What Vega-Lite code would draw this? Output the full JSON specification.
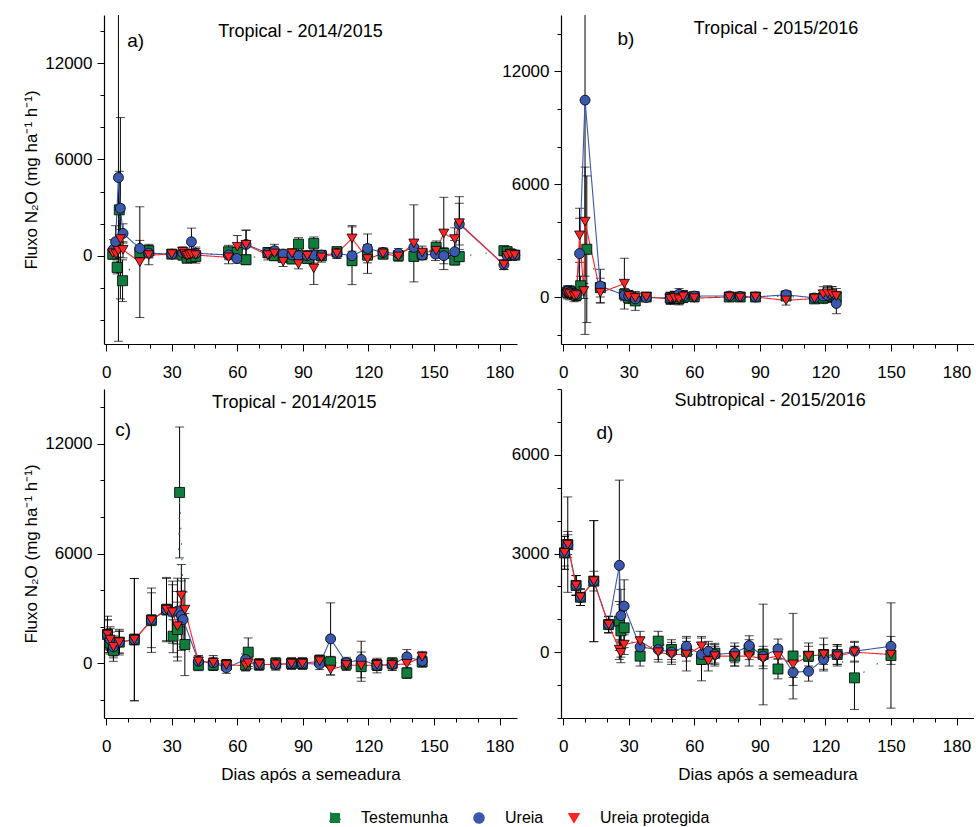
{
"$schema": "https://vega.github.io/schema/vega-lite/v6.json",
"padding": {"left": 22, "top": 15, "right": 0, "bottom": 5},
"bounds": "flush",
"spacing": {"row": 45, "column": 44},
"columns": 2,
"resolve": {"legend": {"color": "shared", "shape": "shared"}, "scale": {"color": "shared", "shape": "shared", "strokeDash": "shared"}},
"datasets": {
"pts": [
{"p":"a","t":"Ureia","d":3.3,"v":400,"e":600},{"p":"a","t":"Ureia","d":4.3,"v":870,"e":1000},{"p":"a","t":"Ureia","d":5.6,"v":4870,"e":10200},{"p":"a","t":"Ureia","d":6.5,"v":2960,"e":5650},{"p":"a","t":"Ureia","d":7.7,"v":1390,"e":600},{"p":"a","t":"Ureia","d":15.4,"v":456,"e":500},{"p":"a","t":"Ureia","d":19.5,"v":165,"e":300},{"p":"a","t":"Ureia","d":30,"v":100,"e":200},{"p":"a","t":"Ureia","d":35,"v":200,"e":300},{"p":"a","t":"Ureia","d":37,"v":100,"e":300},{"p":"a","t":"Ureia","d":39,"v":870,"e":850},{"p":"a","t":"Ureia","d":41,"v":150,"e":300},{"p":"a","t":"Ureia","d":56,"v":50,"e":300},{"p":"a","t":"Ureia","d":59.8,"v":-170,"e":300},{"p":"a","t":"Ureia","d":64,"v":700,"e":900},{"p":"a","t":"Ureia","d":74,"v":165,"e":300},{"p":"a","t":"Ureia","d":77,"v":310,"e":400},{"p":"a","t":"Ureia","d":81,"v":100,"e":300},{"p":"a","t":"Ureia","d":85,"v":50,"e":300},{"p":"a","t":"Ureia","d":88,"v":0,"e":300},{"p":"a","t":"Ureia","d":92,"v":0,"e":300},{"p":"a","t":"Ureia","d":95,"v":40,"e":500},{"p":"a","t":"Ureia","d":98.5,"v":40,"e":300},{"p":"a","t":"Ureia","d":105.6,"v":145,"e":300},{"p":"a","t":"Ureia","d":112.5,"v":0,"e":1800},{"p":"a","t":"Ureia","d":119.6,"v":456,"e":900},{"p":"a","t":"Ureia","d":126.7,"v":200,"e":300},{"p":"a","t":"Ureia","d":133.7,"v":145,"e":300},{"p":"a","t":"Ureia","d":140.8,"v":520,"e":400},{"p":"a","t":"Ureia","d":144.6,"v":40,"e":300},{"p":"a","t":"Ureia","d":150.7,"v":100,"e":400},{"p":"a","t":"Ureia","d":154.5,"v":0,"e":500},{"p":"a","t":"Ureia","d":159.5,"v":250,"e":700},{"p":"a","t":"Ureia","d":161.6,"v":1970,"e":1300},{"p":"a","t":"Ureia","d":182,"v":-560,"e":300},{"p":"a","t":"Ureia","d":183.5,"v":0,"e":300},{"p":"a","t":"Ureia","d":185,"v":100,"e":300},{"p":"a","t":"Ureia","d":187,"v":40,"e":300},
{"p":"a","t":"Ureia protegida","d":3,"v":165,"e":300},{"p":"a","t":"Ureia protegida","d":4.5,"v":100,"e":300},{"p":"a","t":"Ureia protegida","d":5.5,"v":310,"e":400},{"p":"a","t":"Ureia protegida","d":6.5,"v":1040,"e":600},{"p":"a","t":"Ureia protegida","d":7.7,"v":370,"e":500},{"p":"a","t":"Ureia protegida","d":15.4,"v":-400,"e":3450},{"p":"a","t":"Ureia protegida","d":19.5,"v":40,"e":600},{"p":"a","t":"Ureia protegida","d":30,"v":100,"e":200},{"p":"a","t":"Ureia protegida","d":35,"v":250,"e":300},{"p":"a","t":"Ureia protegida","d":36,"v":100,"e":300},{"p":"a","t":"Ureia protegida","d":37,"v":0,"e":300},{"p":"a","t":"Ureia protegida","d":38,"v":50,"e":300},{"p":"a","t":"Ureia protegida","d":39,"v":100,"e":300},{"p":"a","t":"Ureia protegida","d":41,"v":40,"e":500},{"p":"a","t":"Ureia protegida","d":56,"v":-100,"e":400},{"p":"a","t":"Ureia protegida","d":60,"v":560,"e":700},{"p":"a","t":"Ureia protegida","d":64,"v":685,"e":900},{"p":"a","t":"Ureia protegida","d":74,"v":40,"e":300},{"p":"a","t":"Ureia protegida","d":77,"v":145,"e":400},{"p":"a","t":"Ureia protegida","d":81,"v":-370,"e":300},{"p":"a","t":"Ureia protegida","d":85,"v":145,"e":300},{"p":"a","t":"Ureia protegida","d":88,"v":-520,"e":300},{"p":"a","t":"Ureia protegida","d":92,"v":0,"e":300},{"p":"a","t":"Ureia protegida","d":95,"v":-790,"e":1000},{"p":"a","t":"Ureia protegida","d":98.5,"v":-100,"e":300},{"p":"a","t":"Ureia protegida","d":105.6,"v":145,"e":300},{"p":"a","t":"Ureia protegida","d":112.5,"v":1080,"e":800},{"p":"a","t":"Ureia protegida","d":119.6,"v":-200,"e":900},{"p":"a","t":"Ureia protegida","d":126.7,"v":145,"e":300},{"p":"a","t":"Ureia protegida","d":133.7,"v":-40,"e":300},{"p":"a","t":"Ureia protegida","d":140.8,"v":770,"e":2400},{"p":"a","t":"Ureia protegida","d":144.6,"v":200,"e":400},{"p":"a","t":"Ureia protegida","d":151,"v":310,"e":400},{"p":"a","t":"Ureia protegida","d":154.5,"v":1390,"e":2250},{"p":"a","t":"Ureia protegida","d":159.5,"v":1040,"e":700},{"p":"a","t":"Ureia protegida","d":161.6,"v":2030,"e":1650},{"p":"a","t":"Ureia protegida","d":182,"v":-560,"e":300},{"p":"a","t":"Ureia protegida","d":183.5,"v":0,"e":300},{"p":"a","t":"Ureia protegida","d":185,"v":100,"e":300},{"p":"a","t":"Ureia protegida","d":187,"v":40,"e":300},
{"p":"a","t":"Testemunha","d":3,"v":100,"e":300},{"p":"a","t":"Testemunha","d":5,"v":-730,"e":400},{"p":"a","t":"Testemunha","d":6,"v":2860,"e":2400},{"p":"a","t":"Testemunha","d":7.5,"v":-1555,"e":1300},{"p":"a","t":"Testemunha","d":15.4,"v":200,"e":400},{"p":"a","t":"Testemunha","d":19.5,"v":310,"e":400},{"p":"a","t":"Testemunha","d":30,"v":100,"e":200},{"p":"a","t":"Testemunha","d":35,"v":40,"e":300},{"p":"a","t":"Testemunha","d":37,"v":-150,"e":300},{"p":"a","t":"Testemunha","d":39,"v":-100,"e":300},{"p":"a","t":"Testemunha","d":41,"v":-40,"e":300},{"p":"a","t":"Testemunha","d":56,"v":250,"e":400},{"p":"a","t":"Testemunha","d":60,"v":200,"e":300},{"p":"a","t":"Testemunha","d":64,"v":-250,"e":300},{"p":"a","t":"Testemunha","d":74,"v":200,"e":300},{"p":"a","t":"Testemunha","d":77,"v":0,"e":300},{"p":"a","t":"Testemunha","d":81,"v":-100,"e":300},{"p":"a","t":"Testemunha","d":85,"v":-200,"e":300},{"p":"a","t":"Testemunha","d":88,"v":725,"e":400},{"p":"a","t":"Testemunha","d":92,"v":-165,"e":300},{"p":"a","t":"Testemunha","d":95,"v":770,"e":400},{"p":"a","t":"Testemunha","d":98.5,"v":0,"e":300},{"p":"a","t":"Testemunha","d":105.6,"v":250,"e":300},{"p":"a","t":"Testemunha","d":112.5,"v":-310,"e":300},{"p":"a","t":"Testemunha","d":119.6,"v":40,"e":300},{"p":"a","t":"Testemunha","d":126.7,"v":100,"e":300},{"p":"a","t":"Testemunha","d":133.7,"v":0,"e":300},{"p":"a","t":"Testemunha","d":140.8,"v":-40,"e":300},{"p":"a","t":"Testemunha","d":144.6,"v":100,"e":300},{"p":"a","t":"Testemunha","d":151,"v":520,"e":400},{"p":"a","t":"Testemunha","d":154.5,"v":145,"e":300},{"p":"a","t":"Testemunha","d":159.5,"v":-270,"e":300},{"p":"a","t":"Testemunha","d":161.6,"v":-60,"e":300},{"p":"a","t":"Testemunha","d":182,"v":310,"e":300},{"p":"a","t":"Testemunha","d":183.5,"v":250,"e":300},{"p":"a","t":"Testemunha","d":185,"v":100,"e":300},{"p":"a","t":"Testemunha","d":187,"v":40,"e":300},
{"p":"b","t":"Ureia","d":2,"v":300,"e":300},{"p":"b","t":"Ureia","d":3,"v":250,"e":300},{"p":"b","t":"Ureia","d":5,"v":200,"e":300},{"p":"b","t":"Ureia","d":6,"v":150,"e":300},{"p":"b","t":"Ureia","d":7.5,"v":2310,"e":1880},{"p":"b","t":"Ureia","d":10,"v":10470,"e":12460},{"p":"b","t":"Ureia","d":17,"v":585,"e":890},{"p":"b","t":"Ureia","d":28,"v":100,"e":300},{"p":"b","t":"Ureia","d":30,"v":50,"e":300},{"p":"b","t":"Ureia","d":33,"v":-100,"e":300},{"p":"b","t":"Ureia","d":38,"v":-30,"e":200},{"p":"b","t":"Ureia","d":49,"v":-50,"e":300},{"p":"b","t":"Ureia","d":51,"v":0,"e":300},{"p":"b","t":"Ureia","d":53,"v":150,"e":300},{"p":"b","t":"Ureia","d":55,"v":50,"e":300},{"p":"b","t":"Ureia","d":60,"v":50,"e":200},{"p":"b","t":"Ureia","d":76,"v":50,"e":200},{"p":"b","t":"Ureia","d":81,"v":30,"e":200},{"p":"b","t":"Ureia","d":88,"v":0,"e":200},{"p":"b","t":"Ureia","d":102,"v":120,"e":200},{"p":"b","t":"Ureia","d":115,"v":-50,"e":200},{"p":"b","t":"Ureia","d":119,"v":50,"e":300},{"p":"b","t":"Ureia","d":121,"v":100,"e":400},{"p":"b","t":"Ureia","d":123,"v":150,"e":400},{"p":"b","t":"Ureia","d":125,"v":-340,"e":550},
{"p":"b","t":"Ureia protegida","d":2,"v":200,"e":300},{"p":"b","t":"Ureia protegida","d":3,"v":150,"e":300},{"p":"b","t":"Ureia protegida","d":5,"v":50,"e":300},{"p":"b","t":"Ureia protegida","d":6,"v":100,"e":300},{"p":"b","t":"Ureia protegida","d":7.5,"v":3280,"e":1440},{"p":"b","t":"Ureia protegida","d":9.4,"v":320,"e":400},{"p":"b","t":"Ureia protegida","d":10,"v":4010,"e":2900},{"p":"b","t":"Ureia protegida","d":17,"v":230,"e":550},{"p":"b","t":"Ureia protegida","d":28,"v":710,"e":1350},{"p":"b","t":"Ureia protegida","d":30,"v":50,"e":300},{"p":"b","t":"Ureia protegida","d":33,"v":-50,"e":300},{"p":"b","t":"Ureia protegida","d":38,"v":0,"e":200},{"p":"b","t":"Ureia protegida","d":49,"v":-100,"e":300},{"p":"b","t":"Ureia protegida","d":51,"v":-50,"e":300},{"p":"b","t":"Ureia protegida","d":53,"v":-120,"e":300},{"p":"b","t":"Ureia protegida","d":55,"v":30,"e":300},{"p":"b","t":"Ureia protegida","d":60,"v":-60,"e":200},{"p":"b","t":"Ureia protegida","d":76,"v":0,"e":200},{"p":"b","t":"Ureia protegida","d":81,"v":-30,"e":200},{"p":"b","t":"Ureia protegida","d":88,"v":0,"e":200},{"p":"b","t":"Ureia protegida","d":102,"v":-180,"e":250},{"p":"b","t":"Ureia protegida","d":115,"v":-80,"e":200},{"p":"b","t":"Ureia protegida","d":119,"v":150,"e":400},{"p":"b","t":"Ureia protegida","d":121,"v":200,"e":400},{"p":"b","t":"Ureia protegida","d":123,"v":150,"e":400},{"p":"b","t":"Ureia protegida","d":125,"v":50,"e":400},
{"p":"b","t":"Testemunha","d":2,"v":250,"e":300},{"p":"b","t":"Testemunha","d":3,"v":300,"e":300},{"p":"b","t":"Testemunha","d":5,"v":200,"e":300},{"p":"b","t":"Testemunha","d":6,"v":100,"e":300},{"p":"b","t":"Testemunha","d":8,"v":600,"e":500},{"p":"b","t":"Testemunha","d":10.8,"v":2540,"e":3900},{"p":"b","t":"Testemunha","d":17,"v":500,"e":500},{"p":"b","t":"Testemunha","d":28,"v":150,"e":300},{"p":"b","t":"Testemunha","d":30,"v":-50,"e":300},{"p":"b","t":"Testemunha","d":33,"v":-210,"e":500},{"p":"b","t":"Testemunha","d":38,"v":0,"e":200},{"p":"b","t":"Testemunha","d":49,"v":-50,"e":300},{"p":"b","t":"Testemunha","d":51,"v":0,"e":300},{"p":"b","t":"Testemunha","d":53,"v":-80,"e":300},{"p":"b","t":"Testemunha","d":55,"v":0,"e":300},{"p":"b","t":"Testemunha","d":60,"v":20,"e":200},{"p":"b","t":"Testemunha","d":76,"v":0,"e":200},{"p":"b","t":"Testemunha","d":81,"v":0,"e":200},{"p":"b","t":"Testemunha","d":88,"v":0,"e":200},{"p":"b","t":"Testemunha","d":102,"v":50,"e":200},{"p":"b","t":"Testemunha","d":115,"v":-100,"e":200},{"p":"b","t":"Testemunha","d":119,"v":-50,"e":300},{"p":"b","t":"Testemunha","d":121,"v":100,"e":300},{"p":"b","t":"Testemunha","d":123,"v":50,"e":300},{"p":"b","t":"Testemunha","d":125,"v":0,"e":300},
{"p":"c","t":"Ureia","d":0.6,"v":1570,"e":1000},{"p":"c","t":"Ureia","d":1.8,"v":1290,"e":700},{"p":"c","t":"Ureia","d":3.3,"v":890,"e":600},{"p":"c","t":"Ureia","d":6,"v":1150,"e":700},{"p":"c","t":"Ureia","d":12.9,"v":1290,"e":3340},{"p":"c","t":"Ureia","d":20.7,"v":2350,"e":1760},{"p":"c","t":"Ureia","d":27.6,"v":2930,"e":1760},{"p":"c","t":"Ureia","d":30.3,"v":2790,"e":1500},{"p":"c","t":"Ureia","d":32.6,"v":2850,"e":1800},{"p":"c","t":"Ureia","d":34.4,"v":2600,"e":1900},{"p":"c","t":"Ureia","d":35.2,"v":2390,"e":1500},{"p":"c","t":"Ureia","d":42.2,"v":110,"e":300},{"p":"c","t":"Ureia","d":49,"v":20,"e":400},{"p":"c","t":"Ureia","d":55,"v":-255,"e":300},{"p":"c","t":"Ureia","d":63.8,"v":200,"e":300},{"p":"c","t":"Ureia","d":70,"v":-70,"e":300},{"p":"c","t":"Ureia","d":77.6,"v":-70,"e":300},{"p":"c","t":"Ureia","d":84.8,"v":-20,"e":300},{"p":"c","t":"Ureia","d":89.8,"v":-20,"e":300},{"p":"c","t":"Ureia","d":97.7,"v":-50,"e":300},{"p":"c","t":"Ureia","d":102.7,"v":1330,"e":1970},{"p":"c","t":"Ureia","d":109.9,"v":20,"e":300},{"p":"c","t":"Ureia","d":116.7,"v":200,"e":1000},{"p":"c","t":"Ureia","d":123.9,"v":-130,"e":400},{"p":"c","t":"Ureia","d":130.9,"v":-70,"e":300},{"p":"c","t":"Ureia","d":137.6,"v":345,"e":400},{"p":"c","t":"Ureia","d":144.6,"v":110,"e":300},
{"p":"c","t":"Ureia protegida","d":0.6,"v":1570,"e":800},{"p":"c","t":"Ureia protegida","d":1.8,"v":1290,"e":600},{"p":"c","t":"Ureia protegida","d":3.3,"v":890,"e":500},{"p":"c","t":"Ureia protegida","d":6,"v":1150,"e":600},{"p":"c","t":"Ureia protegida","d":12.9,"v":1290,"e":3340},{"p":"c","t":"Ureia protegida","d":20.7,"v":2350,"e":1500},{"p":"c","t":"Ureia protegida","d":27.6,"v":2930,"e":1700},{"p":"c","t":"Ureia protegida","d":30.3,"v":2790,"e":1700},{"p":"c","t":"Ureia protegida","d":32.6,"v":2020,"e":1900},{"p":"c","t":"Ureia protegida","d":34.4,"v":3700,"e":1700},{"p":"c","t":"Ureia protegida","d":36,"v":2930,"e":1700},{"p":"c","t":"Ureia protegida","d":42.2,"v":100,"e":300},{"p":"c","t":"Ureia protegida","d":49,"v":20,"e":300},{"p":"c","t":"Ureia protegida","d":55,"v":-100,"e":300},{"p":"c","t":"Ureia protegida","d":63.8,"v":-130,"e":300},{"p":"c","t":"Ureia protegida","d":65,"v":0,"e":300},{"p":"c","t":"Ureia protegida","d":70,"v":-70,"e":300},{"p":"c","t":"Ureia protegida","d":77.6,"v":-70,"e":300},{"p":"c","t":"Ureia protegida","d":84.8,"v":-20,"e":300},{"p":"c","t":"Ureia protegida","d":89.8,"v":-20,"e":300},{"p":"c","t":"Ureia protegida","d":97.7,"v":110,"e":300},{"p":"c","t":"Ureia protegida","d":102.7,"v":-350,"e":300},{"p":"c","t":"Ureia protegida","d":109.9,"v":-100,"e":300},{"p":"c","t":"Ureia protegida","d":116.7,"v":-130,"e":300},{"p":"c","t":"Ureia protegida","d":123.9,"v":-100,"e":300},{"p":"c","t":"Ureia protegida","d":130.9,"v":-100,"e":300},{"p":"c","t":"Ureia protegida","d":137.6,"v":-30,"e":300},{"p":"c","t":"Ureia protegida","d":144.6,"v":345,"e":300},
{"p":"c","t":"Testemunha","d":0.6,"v":1570,"e":800},{"p":"c","t":"Testemunha","d":1.8,"v":1100,"e":600},{"p":"c","t":"Testemunha","d":3.3,"v":700,"e":600},{"p":"c","t":"Testemunha","d":6,"v":1150,"e":600},{"p":"c","t":"Testemunha","d":12.9,"v":1290,"e":300},{"p":"c","t":"Testemunha","d":20.7,"v":2350,"e":300},{"p":"c","t":"Testemunha","d":27.6,"v":2930,"e":300},{"p":"c","t":"Testemunha","d":30.6,"v":1475,"e":900},{"p":"c","t":"Testemunha","d":32.6,"v":1840,"e":1500},{"p":"c","t":"Testemunha","d":33.6,"v":9340,"e":3580},{"p":"c","t":"Testemunha","d":36,"v":1020,"e":1700},{"p":"c","t":"Testemunha","d":42.2,"v":-110,"e":300},{"p":"c","t":"Testemunha","d":49,"v":-100,"e":300},{"p":"c","t":"Testemunha","d":55,"v":-100,"e":300},{"p":"c","t":"Testemunha","d":63.8,"v":-100,"e":300},{"p":"c","t":"Testemunha","d":65,"v":600,"e":780},{"p":"c","t":"Testemunha","d":70,"v":-70,"e":300},{"p":"c","t":"Testemunha","d":77.6,"v":0,"e":300},{"p":"c","t":"Testemunha","d":84.8,"v":-20,"e":300},{"p":"c","t":"Testemunha","d":89.8,"v":-20,"e":300},{"p":"c","t":"Testemunha","d":97.7,"v":150,"e":300},{"p":"c","t":"Testemunha","d":102.7,"v":73,"e":300},{"p":"c","t":"Testemunha","d":109.9,"v":-50,"e":300},{"p":"c","t":"Testemunha","d":116.7,"v":-190,"e":800},{"p":"c","t":"Testemunha","d":123.9,"v":-100,"e":300},{"p":"c","t":"Testemunha","d":130.9,"v":0,"e":300},{"p":"c","t":"Testemunha","d":137.6,"v":-540,"e":300},{"p":"c","t":"Testemunha","d":144.6,"v":80,"e":300},
{"p":"d","t":"Ureia","d":0.6,"v":3020,"e":500},{"p":"d","t":"Ureia","d":2.1,"v":3270,"e":1450},{"p":"d","t":"Ureia","d":5.9,"v":2030,"e":300},{"p":"d","t":"Ureia","d":7.9,"v":1670,"e":250},{"p":"d","t":"Ureia","d":14,"v":2160,"e":1840},{"p":"d","t":"Ureia","d":20.8,"v":840,"e":250},{"p":"d","t":"Ureia","d":25.7,"v":2640,"e":2590},{"p":"d","t":"Ureia","d":26.4,"v":1110,"e":800},{"p":"d","t":"Ureia","d":27.9,"v":1400,"e":800},{"p":"d","t":"Ureia","d":35.2,"v":160,"e":300},{"p":"d","t":"Ureia","d":43.5,"v":80,"e":300},{"p":"d","t":"Ureia","d":49.6,"v":0,"e":300},{"p":"d","t":"Ureia","d":56.4,"v":180,"e":300},{"p":"d","t":"Ureia","d":63.3,"v":-70,"e":300},{"p":"d","t":"Ureia","d":66.4,"v":30,"e":300},{"p":"d","t":"Ureia","d":69.4,"v":-70,"e":300},{"p":"d","t":"Ureia","d":78.5,"v":-20,"e":300},{"p":"d","t":"Ureia","d":85.1,"v":200,"e":300},{"p":"d","t":"Ureia","d":91.5,"v":-120,"e":300},{"p":"d","t":"Ureia","d":98.3,"v":100,"e":300},{"p":"d","t":"Ureia","d":105.2,"v":-610,"e":400},{"p":"d","t":"Ureia","d":112.3,"v":-580,"e":300},{"p":"d","t":"Ureia","d":119.2,"v":-220,"e":300},{"p":"d","t":"Ureia","d":125.4,"v":-70,"e":300},{"p":"d","t":"Ureia","d":133.3,"v":30,"e":300},{"p":"d","t":"Ureia","d":150,"v":180,"e":300},
{"p":"d","t":"Ureia protegida","d":0.6,"v":3020,"e":500},{"p":"d","t":"Ureia protegida","d":2.1,"v":3270,"e":300},{"p":"d","t":"Ureia protegida","d":5.9,"v":2030,"e":300},{"p":"d","t":"Ureia protegida","d":7.9,"v":1670,"e":250},{"p":"d","t":"Ureia protegida","d":14,"v":2160,"e":1840},{"p":"d","t":"Ureia protegida","d":20.8,"v":840,"e":250},{"p":"d","t":"Ureia protegida","d":25.7,"v":80,"e":300},{"p":"d","t":"Ureia protegida","d":26.4,"v":-20,"e":300},{"p":"d","t":"Ureia protegida","d":27.9,"v":230,"e":300},{"p":"d","t":"Ureia protegida","d":35.2,"v":335,"e":300},{"p":"d","t":"Ureia protegida","d":43.5,"v":0,"e":300},{"p":"d","t":"Ureia protegida","d":49.6,"v":-70,"e":300},{"p":"d","t":"Ureia protegida","d":56.4,"v":-70,"e":500},{"p":"d","t":"Ureia protegida","d":63.3,"v":180,"e":300},{"p":"d","t":"Ureia protegida","d":66.4,"v":-270,"e":300},{"p":"d","t":"Ureia protegida","d":69.4,"v":-120,"e":300},{"p":"d","t":"Ureia protegida","d":78.5,"v":-120,"e":300},{"p":"d","t":"Ureia protegida","d":85.1,"v":-120,"e":300},{"p":"d","t":"Ureia protegida","d":91.5,"v":-200,"e":300},{"p":"d","t":"Ureia protegida","d":98.3,"v":-120,"e":300},{"p":"d","t":"Ureia protegida","d":105.2,"v":-370,"e":400},{"p":"d","t":"Ureia protegida","d":112.3,"v":-120,"e":400},{"p":"d","t":"Ureia protegida","d":119.2,"v":-70,"e":500},{"p":"d","t":"Ureia protegida","d":125.4,"v":-120,"e":300},{"p":"d","t":"Ureia protegida","d":133.3,"v":0,"e":300},{"p":"d","t":"Ureia protegida","d":150,"v":-70,"e":300},
{"p":"d","t":"Testemunha","d":0.6,"v":3020,"e":400},{"p":"d","t":"Testemunha","d":2.1,"v":3270,"e":400},{"p":"d","t":"Testemunha","d":5.9,"v":2030,"e":300},{"p":"d","t":"Testemunha","d":7.9,"v":1670,"e":250},{"p":"d","t":"Testemunha","d":14,"v":2160,"e":300},{"p":"d","t":"Testemunha","d":20.8,"v":840,"e":250},{"p":"d","t":"Testemunha","d":25.7,"v":940,"e":600},{"p":"d","t":"Testemunha","d":26.4,"v":650,"e":800},{"p":"d","t":"Testemunha","d":27.9,"v":740,"e":600},{"p":"d","t":"Testemunha","d":35.2,"v":-120,"e":300},{"p":"d","t":"Testemunha","d":43.5,"v":335,"e":300},{"p":"d","t":"Testemunha","d":49.6,"v":80,"e":300},{"p":"d","t":"Testemunha","d":56.4,"v":30,"e":300},{"p":"d","t":"Testemunha","d":63.3,"v":-220,"e":650},{"p":"d","t":"Testemunha","d":66.4,"v":-50,"e":300},{"p":"d","t":"Testemunha","d":69.4,"v":-30,"e":300},{"p":"d","t":"Testemunha","d":78.5,"v":-120,"e":300},{"p":"d","t":"Testemunha","d":85.1,"v":80,"e":300},{"p":"d","t":"Testemunha","d":91.5,"v":-70,"e":1530},{"p":"d","t":"Testemunha","d":98.3,"v":-510,"e":300},{"p":"d","t":"Testemunha","d":105.2,"v":-120,"e":1300},{"p":"d","t":"Testemunha","d":112.3,"v":-120,"e":300},{"p":"d","t":"Testemunha","d":119.2,"v":-70,"e":300},{"p":"d","t":"Testemunha","d":125.4,"v":-70,"e":300},{"p":"d","t":"Testemunha","d":133.3,"v":-780,"e":960},{"p":"d","t":"Testemunha","d":150,"v":-100,"e":1600}
]
},
"concat": [
{
"width": 413, "height": 329,
"layer": [
{
"data": {"name": "pts"},
"transform": [{"filter": "datum.p === 'a'"}],
"encoding": {
 "x": {"field": "d", "type": "quantitative", "scale": {"domain": [-1, 188], "nice": false, "zero": false}, "axis": {"values": [0,10,20,30,40,50,60,70,80,90,100,110,120,130,140,150,160,170,180], "format": "d", "title": null, "labelOverlap": false, "labelExpr": "datum.value % 30 === 0 ? datum.label : ''", "tickSize": {"condition": {"test": "datum.value % 30 === 0", "value": 7}, "value": 4}}},
 "y": {"field": "v", "type": "quantitative", "scale": {"domain": [-5500, 15000], "nice": false, "zero": false}, "axis": {"values": [-4000,-2000,0,2000,4000,6000,8000,10000,12000,14000], "format": "d", "title": "Fluxo N₂O (mg ha⁻¹ h⁻¹)", "labelOverlap": false, "labelExpr": "datum.value % 6000 === 0 ? datum.label : ''", "tickSize": {"condition": {"test": "datum.value % 6000 === 0", "value": 7}, "value": 4}}}
},
"layer": [
{"mark": {"type": "errorbar", "ticks": {"size": 9, "color": "black"}, "color": "black", "clip": true},
 "encoding": {"yError": {"field": "e"}}},
{"mark": {"type": "line", "strokeWidth": 1.1},
 "encoding": {
  "color": {"field": "t", "type": "nominal", "scale": {"domain": ["Testemunha", "Ureia", "Ureia protegida"], "range": ["#0f7d3c", "#3a58ae", "#ff2424"]},
   "legend": {"title": null, "orient": "none", "legendX": 223, "legendY": 795, "direction": "horizontal"}},
  "strokeDash": {"field": "t", "type": "nominal", "scale": {"domain": ["Testemunha", "Ureia", "Ureia protegida"], "range": [[1.5, 14], [1, 0], [1, 0]]}, "legend": null}}},
{"mark": {"type": "point", "filled": true, "opacity": 1, "stroke": "black", "strokeWidth": 0.8, "size": 100},
 "encoding": {
  "color": {"field": "t", "type": "nominal"},
  "shape": {"field": "t", "type": "nominal", "scale": {"domain": ["Testemunha", "Ureia", "Ureia protegida"], "range": ["square", "circle", "triangle-down"]}},
  "order": {"field": "t", "sort": "ascending"}}}
]
},
{"data": {"values": [{}]}, "mark": {"type": "text", "text": "Tropical - 2014/2015", "fontSize": 18, "font": "Liberation Sans", "align": "center", "baseline": "middle", "color": "black"},
 "encoding": {
  "x": {"datum": 88.9, "type": "quantitative", "axis": {"values": [0,10,20,30,40,50,60,70,80,90,100,110,120,130,140,150,160,170,180], "format": "d", "title": null, "labelOverlap": false, "labelExpr": "datum.value % 30 === 0 ? datum.label : ''", "tickSize": {"condition": {"test": "datum.value % 30 === 0", "value": 7}, "value": 4}}},
  "y": {"datum": 13910, "type": "quantitative", "axis": {"values": [-4000,-2000,0,2000,4000,6000,8000,10000,12000,14000], "format": "d", "title": "Fluxo N₂O (mg ha⁻¹ h⁻¹)", "labelOverlap": false, "labelExpr": "datum.value % 6000 === 0 ? datum.label : ''", "tickSize": {"condition": {"test": "datum.value % 6000 === 0", "value": 7}, "value": 4}}}}},
{"data": {"values": [{}]}, "mark": {"type": "text", "text": "a)", "fontSize": 19, "font": "Liberation Sans", "align": "left", "baseline": "middle", "color": "black"},
 "encoding": {
  "x": {"datum": 9.6, "type": "quantitative", "axis": {"values": [0,10,20,30,40,50,60,70,80,90,100,110,120,130,140,150,160,170,180], "format": "d", "title": null, "labelOverlap": false, "labelExpr": "datum.value % 30 === 0 ? datum.label : ''", "tickSize": {"condition": {"test": "datum.value % 30 === 0", "value": 7}, "value": 4}}},
  "y": {"datum": 13350, "type": "quantitative", "axis": {"values": [-4000,-2000,0,2000,4000,6000,8000,10000,12000,14000], "format": "d", "title": "Fluxo N₂O (mg ha⁻¹ h⁻¹)", "labelOverlap": false, "labelExpr": "datum.value % 6000 === 0 ? datum.label : ''", "tickSize": {"condition": {"test": "datum.value % 6000 === 0", "value": 7}, "value": 4}}}}}
]
},
{
"width": 413, "height": 329,
"layer": [
{
"data": {"name": "pts"},
"transform": [{"filter": "datum.p === 'b'"}],
"encoding": {
 "x": {"field": "d", "type": "quantitative", "scale": {"domain": [-1, 188], "nice": false, "zero": false}, "axis": {"values": [0,10,20,30,40,50,60,70,80,90,100,110,120,130,140,150,160,170,180], "format": "d", "title": null, "labelOverlap": false, "labelExpr": "datum.value % 30 === 0 ? datum.label : ''", "tickSize": {"condition": {"test": "datum.value % 30 === 0", "value": 7}, "value": 4}}},
 "y": {"field": "v", "type": "quantitative", "scale": {"domain": [-2500, 15000], "nice": false, "zero": false}, "axis": {"values": [-2000,0,2000,4000,6000,8000,10000,12000,14000], "format": "d", "title": null, "labelOverlap": false, "labelExpr": "datum.value % 6000 === 0 ? datum.label : ''", "tickSize": {"condition": {"test": "datum.value % 6000 === 0", "value": 7}, "value": 4}}}
},
"layer": [
{"mark": {"type": "errorbar", "ticks": {"size": 9, "color": "black"}, "color": "black", "clip": true},
 "encoding": {"yError": {"field": "e"}}},
{"mark": {"type": "line", "strokeWidth": 1.1},
 "encoding": {"color": {"field": "t", "type": "nominal"}, "strokeDash": {"field": "t", "type": "nominal", "legend": null}}},
{"mark": {"type": "point", "filled": true, "opacity": 1, "stroke": "black", "strokeWidth": 0.8, "size": 100},
 "encoding": {"color": {"field": "t", "type": "nominal"}, "shape": {"field": "t", "type": "nominal"}, "order": {"field": "t", "sort": "ascending"}}}
]
},
{"data": {"values": [{}]}, "mark": {"type": "text", "text": "Tropical - 2015/2016", "fontSize": 18, "font": "Liberation Sans", "align": "center", "baseline": "middle", "color": "black"},
 "encoding": {
  "x": {"datum": 97.4, "type": "quantitative", "axis": {"values": [0,10,20,30,40,50,60,70,80,90,100,110,120,130,140,150,160,170,180], "format": "d", "title": null, "labelOverlap": false, "labelExpr": "datum.value % 30 === 0 ? datum.label : ''", "tickSize": {"condition": {"test": "datum.value % 30 === 0", "value": 7}, "value": 4}}},
  "y": {"datum": 14250, "type": "quantitative", "axis": {"values": [-2000,0,2000,4000,6000,8000,10000,12000,14000], "format": "d", "title": null, "labelOverlap": false, "labelExpr": "datum.value % 6000 === 0 ? datum.label : ''", "tickSize": {"condition": {"test": "datum.value % 6000 === 0", "value": 7}, "value": 4}}}}},
{"data": {"values": [{}]}, "mark": {"type": "text", "text": "b)", "fontSize": 19, "font": "Liberation Sans", "align": "left", "baseline": "middle", "color": "black"},
 "encoding": {
  "x": {"datum": 24.8, "type": "quantitative", "axis": {"values": [0,10,20,30,40,50,60,70,80,90,100,110,120,130,140,150,160,170,180], "format": "d", "title": null, "labelOverlap": false, "labelExpr": "datum.value % 30 === 0 ? datum.label : ''", "tickSize": {"condition": {"test": "datum.value % 30 === 0", "value": 7}, "value": 4}}},
  "y": {"datum": 13720, "type": "quantitative", "axis": {"values": [-2000,0,2000,4000,6000,8000,10000,12000,14000], "format": "d", "title": null, "labelOverlap": false, "labelExpr": "datum.value % 6000 === 0 ? datum.label : ''", "tickSize": {"condition": {"test": "datum.value % 6000 === 0", "value": 7}, "value": 4}}}}}
]
},
{
"width": 413, "height": 329,
"layer": [
{
"data": {"name": "pts"},
"transform": [{"filter": "datum.p === 'c'"}],
"encoding": {
 "x": {"field": "d", "type": "quantitative", "scale": {"domain": [-1, 188], "nice": false, "zero": false}, "axis": {"values": [0,10,20,30,40,50,60,70,80,90,100,110,120,130,140,150,160,170,180], "format": "d", "title": "Dias após a semeadura", "labelOverlap": false, "labelExpr": "datum.value % 30 === 0 ? datum.label : ''", "tickSize": {"condition": {"test": "datum.value % 30 === 0", "value": 7}, "value": 4}}},
 "y": {"field": "v", "type": "quantitative", "scale": {"domain": [-3000, 15000], "nice": false, "zero": false}, "axis": {"values": [-2000,0,2000,4000,6000,8000,10000,12000,14000], "format": "d", "title": "Fluxo N₂O (mg ha⁻¹ h⁻¹)", "labelOverlap": false, "labelExpr": "datum.value % 6000 === 0 ? datum.label : ''", "tickSize": {"condition": {"test": "datum.value % 6000 === 0", "value": 7}, "value": 4}}}
},
"layer": [
{"mark": {"type": "errorbar", "ticks": {"size": 9, "color": "black"}, "color": "black", "clip": true},
 "encoding": {"yError": {"field": "e"}}},
{"mark": {"type": "line", "strokeWidth": 1.1},
 "encoding": {"color": {"field": "t", "type": "nominal"}, "strokeDash": {"field": "t", "type": "nominal", "legend": null}}},
{"mark": {"type": "point", "filled": true, "opacity": 1, "stroke": "black", "strokeWidth": 0.8, "size": 100},
 "encoding": {"color": {"field": "t", "type": "nominal"}, "shape": {"field": "t", "type": "nominal"}, "order": {"field": "t", "sort": "ascending"}}}
]
},
{"data": {"values": [{}]}, "mark": {"type": "text", "text": "Tropical - 2014/2015", "fontSize": 18, "font": "Liberation Sans", "align": "center", "baseline": "middle", "color": "black"},
 "encoding": {
  "x": {"datum": 86.1, "type": "quantitative", "axis": {"values": [0,10,20,30,40,50,60,70,80,90,100,110,120,130,140,150,160,170,180], "format": "d", "title": "Dias após a semeadura", "labelOverlap": false, "labelExpr": "datum.value % 30 === 0 ? datum.label : ''", "tickSize": {"condition": {"test": "datum.value % 30 === 0", "value": 7}, "value": 4}}},
  "y": {"datum": 14245, "type": "quantitative", "axis": {"values": [-2000,0,2000,4000,6000,8000,10000,12000,14000], "format": "d", "title": "Fluxo N₂O (mg ha⁻¹ h⁻¹)", "labelOverlap": false, "labelExpr": "datum.value % 6000 === 0 ? datum.label : ''", "tickSize": {"condition": {"test": "datum.value % 6000 === 0", "value": 7}, "value": 4}}}}},
{"data": {"values": [{}]}, "mark": {"type": "text", "text": "c)", "fontSize": 19, "font": "Liberation Sans", "align": "left", "baseline": "middle", "color": "black"},
 "encoding": {
  "x": {"datum": 4.1, "type": "quantitative", "axis": {"values": [0,10,20,30,40,50,60,70,80,90,100,110,120,130,140,150,160,170,180], "format": "d", "title": "Dias após a semeadura", "labelOverlap": false, "labelExpr": "datum.value % 30 === 0 ? datum.label : ''", "tickSize": {"condition": {"test": "datum.value % 30 === 0", "value": 7}, "value": 4}}},
  "y": {"datum": 12740, "type": "quantitative", "axis": {"values": [-2000,0,2000,4000,6000,8000,10000,12000,14000], "format": "d", "title": "Fluxo N₂O (mg ha⁻¹ h⁻¹)", "labelOverlap": false, "labelExpr": "datum.value % 6000 === 0 ? datum.label : ''", "tickSize": {"condition": {"test": "datum.value % 6000 === 0", "value": 7}, "value": 4}}}}}
]
},
{
"width": 413, "height": 329,
"layer": [
{
"data": {"name": "pts"},
"transform": [{"filter": "datum.p === 'd'"}],
"encoding": {
 "x": {"field": "d", "type": "quantitative", "scale": {"domain": [-1, 188], "nice": false, "zero": false}, "axis": {"values": [0,10,20,30,40,50,60,70,80,90,100,110,120,130,140,150,160,170,180], "format": "d", "title": "Dias após a semeadura", "labelOverlap": false, "labelExpr": "datum.value % 30 === 0 ? datum.label : ''", "tickSize": {"condition": {"test": "datum.value % 30 === 0", "value": 7}, "value": 4}}},
 "y": {"field": "v", "type": "quantitative", "scale": {"domain": [-2000, 8000], "nice": false, "zero": false}, "axis": {"values": [-2000,-1000,0,1000,2000,3000,4000,5000,6000,7000,8000], "format": "d", "title": null, "labelOverlap": false, "labelExpr": "datum.value % 3000 === 0 ? datum.label : ''", "tickSize": {"condition": {"test": "datum.value % 3000 === 0", "value": 7}, "value": 4}}}
},
"layer": [
{"mark": {"type": "errorbar", "ticks": {"size": 9, "color": "black"}, "color": "black", "clip": true},
 "encoding": {"yError": {"field": "e"}}},
{"mark": {"type": "line", "strokeWidth": 1.1},
 "encoding": {"color": {"field": "t", "type": "nominal"}, "strokeDash": {"field": "t", "type": "nominal", "legend": null}}},
{"mark": {"type": "point", "filled": true, "opacity": 1, "stroke": "black", "strokeWidth": 0.8, "size": 100},
 "encoding": {"color": {"field": "t", "type": "nominal"}, "shape": {"field": "t", "type": "nominal"}, "order": {"field": "t", "sort": "ascending"}}}
]
},
{"data": {"values": [{}]}, "mark": {"type": "text", "text": "Subtropical - 2015/2016", "fontSize": 18, "font": "Liberation Sans", "align": "center", "baseline": "middle", "color": "black"},
 "encoding": {
  "x": {"datum": 94.7, "type": "quantitative", "axis": {"values": [0,10,20,30,40,50,60,70,80,90,100,110,120,130,140,150,160,170,180], "format": "d", "title": "Dias após a semeadura", "labelOverlap": false, "labelExpr": "datum.value % 30 === 0 ? datum.label : ''", "tickSize": {"condition": {"test": "datum.value % 30 === 0", "value": 7}, "value": 4}}},
  "y": {"datum": 7630, "type": "quantitative", "axis": {"values": [-2000,-1000,0,1000,2000,3000,4000,5000,6000,7000,8000], "format": "d", "title": null, "labelOverlap": false, "labelExpr": "datum.value % 3000 === 0 ? datum.label : ''", "tickSize": {"condition": {"test": "datum.value % 3000 === 0", "value": 7}, "value": 4}}}}},
{"data": {"values": [{}]}, "mark": {"type": "text", "text": "d)", "fontSize": 19, "font": "Liberation Sans", "align": "left", "baseline": "middle", "color": "black"},
 "encoding": {
  "x": {"datum": 15.2, "type": "quantitative", "axis": {"values": [0,10,20,30,40,50,60,70,80,90,100,110,120,130,140,150,160,170,180], "format": "d", "title": "Dias após a semeadura", "labelOverlap": false, "labelExpr": "datum.value % 30 === 0 ? datum.label : ''", "tickSize": {"condition": {"test": "datum.value % 30 === 0", "value": 7}, "value": 4}}},
  "y": {"datum": 6660, "type": "quantitative", "axis": {"values": [-2000,-1000,0,1000,2000,3000,4000,5000,6000,7000,8000], "format": "d", "title": null, "labelOverlap": false, "labelExpr": "datum.value % 3000 === 0 ? datum.label : ''", "tickSize": {"condition": {"test": "datum.value % 3000 === 0", "value": 7}, "value": 4}}}}}
]
}
],
"config": {
 "view": {"stroke": null},
 "axis": {"domainColor": "black", "tickColor": "black", "labelColor": "black", "titleColor": "black", "labelFont": "Liberation Sans", "titleFont": "Liberation Sans", "labelFontSize": 17, "titleFontSize": 17, "titleFontWeight": "normal", "grid": false, "domainWidth": 1.2, "tickWidth": 1, "labelPadding": 5, "labelOverlap": false},
 "axisQuantitative": {"labelOverlap": false},
 "axisY": {"titleFontSize": 17, "titlePadding": 4},
 "axisX": {"labelPadding": 13, "titlePadding": 12},
 "legend": {"labelFont": "Liberation Sans", "labelFontSize": 16, "labelColor": "black", "symbolSize": 100, "symbolStrokeColor": "black", "columnPadding": 22, "labelOffset": 18, "labelLimit": 300}
}
}
